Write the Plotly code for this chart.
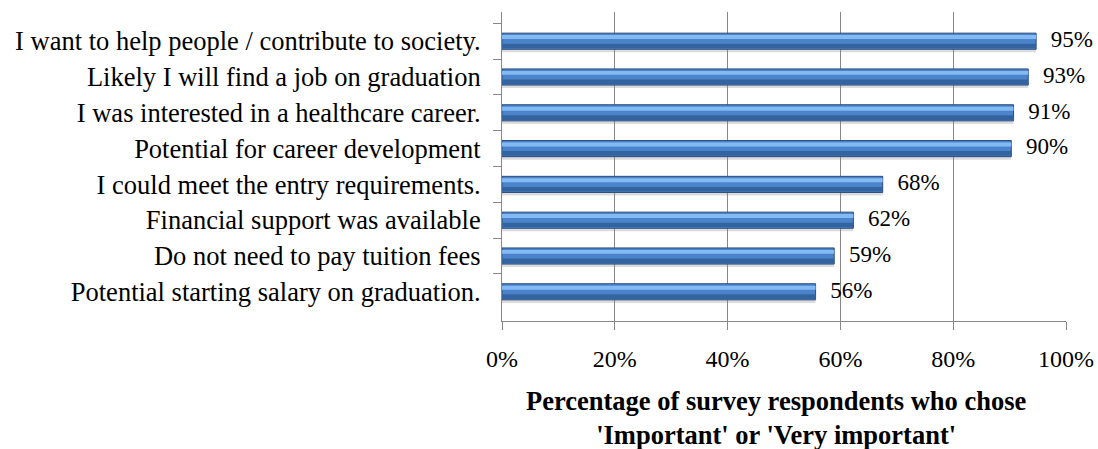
import plotly.graph_objects as go

# survey reasons, top to bottom
reasons = [
    "I want to help people / contribute to society.",
    "Likely I will find a job on graduation",
    "I was interested in a healthcare career.",
    "Potential for career development",
    "I could meet the entry requirements.",
    "Financial support was available",
    "Do not need to pay tuition fees",
    "Potential starting salary on graduation.",
]
share = [0.947, 0.933, 0.907, 0.903, 0.675, 0.623, 0.589, 0.556]
share_labels = ["95%", "93%", "91%", "90%", "68%", "62%", "59%", "56%"]
x_ticks = [0, 0.2, 0.4, 0.6, 0.8, 1.0]
x_tick_labels = ["0%", "20%", "40%", "60%", "80%", "100%"]

SERIF = "Liberation Serif, Times New Roman, serif"
GRID = "#878787"

fig = go.Figure()

# soft shadow under each bar
fig.add_trace(go.Bar(y=reasons, x=share, orientation="h", width=0.44, offset=-0.13,
                     marker=dict(color="rgba(140,140,140,0.30)", line_width=0),
                     hoverinfo="skip", showlegend=False))
# main body of the bar
fig.add_trace(go.Bar(y=reasons, x=share, orientation="h", width=0.45, offset=-0.225,
                     marker=dict(color="#4b84cb", line=dict(color="#2a4c7c", width=1)),
                     showlegend=False))
# light band near the top
fig.add_trace(go.Bar(y=reasons, x=share, orientation="h", width=0.11, offset=-0.17,
                     marker=dict(color="#84baf3", line_width=0),
                     hoverinfo="skip", showlegend=False))
# darker band near the bottom
fig.add_trace(go.Bar(y=reasons, x=share, orientation="h", width=0.13, offset=0.07,
                     marker=dict(color="#34649f", line_width=0),
                     hoverinfo="skip", showlegend=False))
# value labels, pushed a little right of the bar end
fig.add_trace(go.Scatter(y=reasons, x=share, mode="markers+text", text=share_labels,
                         textposition="middle right", cliponaxis=False,
                         marker=dict(size=22, opacity=0),
                         textfont=dict(family=SERIF, size=23, color="#000000"),
                         hoverinfo="skip", showlegend=False))

fig.update_layout(
    barmode="overlay",
    width=1098, height=449,
    margin=dict(l=502, r=32, t=12, b=128, autoexpand=False),
    paper_bgcolor="white", plot_bgcolor="white",
    font=dict(family=SERIF, size=24, color="#000000"),
)
fig.update_xaxes(range=[0, 1], tickvals=x_ticks, ticktext=x_tick_labels,
                 showgrid=True, gridcolor=GRID, gridwidth=1,
                 showline=True, linecolor=GRID, linewidth=1,
                 ticks="outside", ticklen=8, tickcolor=GRID,
                 ticklabelstandoff=8, automargin=False,
                 tickfont=dict(family=SERIF, size=24), zeroline=False)
fig.update_yaxes(autorange="reversed", type="category", tickson="boundaries",
                 showline=True, linecolor=GRID, linewidth=1,
                 ticks="outside", ticklen=8, tickcolor=GRID,
                 showgrid=False, ticklabelstandoff=15, automargin=False,
                 tickfont=dict(family=SERIF, size=26.5))

fig.add_annotation(text="<b>Percentage of survey respondents who chose<br>'Important' or 'Very important'</b>",
                   xref="paper", yref="paper", x=0.4875, y=-0.315, yanchor="middle",
                   showarrow=False, align="center",
                   font=dict(family=SERIF, size=26.5, color="#000000"))

# page margin off so the chart sits at the window's corner
fig.write_html("out.html", config={"displayModeBar": False},
               post_script="document.body.style.margin='0';")
